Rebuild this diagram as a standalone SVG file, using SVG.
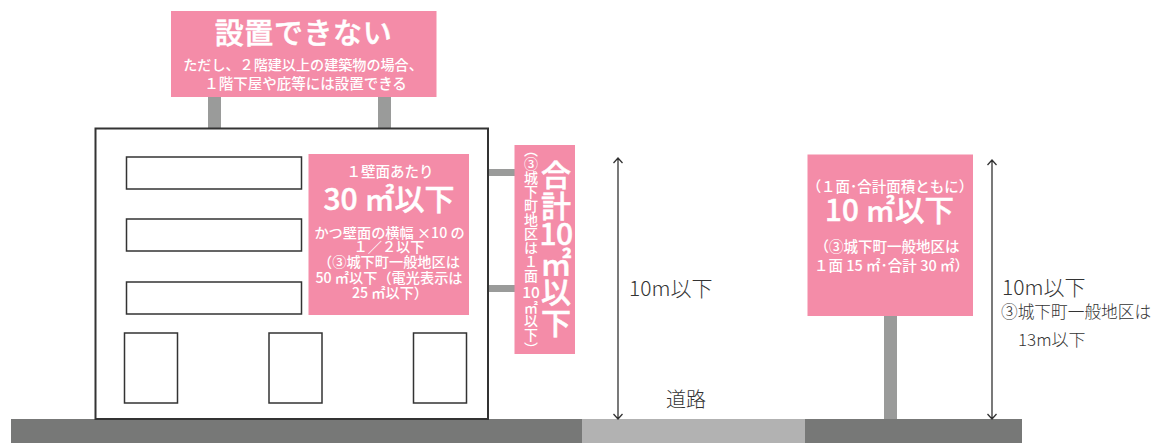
<svg xmlns="http://www.w3.org/2000/svg" width="1152" height="443" viewBox="0 0 1152 443">
<style>
text{font-family:"Noto Sans CJK JP","Noto Sans",sans-serif}
.w{fill:#fff;text-anchor:middle;font-weight:500}
.h{stroke:#fff;stroke-width:0.5}
.k{fill:#333;font-weight:300}
.sign{fill:#f48ca8}
.post{fill:#9a9b9a}
.box{fill:#fff;stroke:#333;stroke-width:1.5}
.v{writing-mode:vertical-rl;fill:#fff;font-weight:500}
.dim{fill:none;stroke:#333;stroke-width:1.3}
</style>
<g id="ground">
<rect x="11" y="419" width="571" height="24" fill="#777877"/>
<rect x="582" y="419" width="223" height="24" fill="#b2b2b2"/>
<rect x="805" y="419" width="217" height="24" fill="#777877"/>
</g>
<g id="connectors">
<rect class="post" x="208" y="97" width="13" height="32"/>
<rect class="post" x="378" y="97" width="13" height="32"/>
<rect class="post" x="488" y="169" width="27" height="7"/>
<rect class="post" x="488" y="285" width="27" height="7"/>
<rect class="post" x="884" y="316" width="13" height="103"/>
<path class="dim" d="M618 158V419M613.500 163L618 158L622.500 163M613.500 414L618 419L622.500 414"/>
<path class="dim" d="M992 160V419M987.500 165L992 160L996.500 165M987.500 414L992 419L996.500 414"/>
</g>
<g id="building">
<rect x="95.500" y="128.500" width="392.500" height="290.500" fill="#fff" stroke="#333" stroke-width="2"/>
<rect class="box" x="126.500" y="157" width="175" height="32"/>
<rect class="box" x="126.500" y="219" width="175" height="32"/>
<rect class="box" x="126.500" y="282" width="175" height="32"/>
<rect class="box" x="124.500" y="333" width="53" height="70"/>
<rect class="box" x="269" y="333" width="53" height="70"/>
<rect class="box" x="413.500" y="333" width="53" height="70"/>
</g>
<g id="roof-sign">
<rect class="sign" x="171" y="11" width="265.500" height="86"/>
<text class="w h" x="303.500" y="44" font-size="29" letter-spacing="0.600">設置できない</text>
<text class="w"><tspan x="303" y="70" font-size="14.100">ただし、２階建以上の建築物の場合、</tspan><tspan x="305.500" y="89" font-size="14.500">１階下屋や庇等には設置できる</tspan></text>
</g>
<g id="wall-sign">
<rect class="sign" x="308.500" y="154" width="160.500" height="161"/>
<text class="w" x="390" y="177" font-size="14.500">１壁面あたり</text>
<text class="w h" x="389" y="210" font-size="30">30 ㎡以下</text>
<text class="w" font-size="14.200"><tspan x="389.500" y="238">かつ壁面の横幅 ×10 の</tspan><tspan x="389" y="252">１／２以下</tspan><tspan x="389" y="267">（③城下町一般地区は</tspan><tspan x="389" y="283">50 ㎡以下（電光表示は</tspan><tspan x="390" y="298">25 ㎡以下）</tspan></text>
</g>
<g id="side-sign">
<rect class="sign" x="514.500" y="145" width="60.500" height="209"/>
<text class="v" x="531" y="143" font-size="14">（③城下町地区は１面</text>
<text class="w" x="531" y="298" font-size="15.500">10</text>
<text class="v" x="531" y="300" font-size="14">㎡以下）</text>
<text class="w h" font-size="30"><tspan x="556" y="186">合</tspan><tspan x="556" y="217">計</tspan><tspan x="556" y="245" letter-spacing="-0.500">10</tspan><tspan x="556" y="275" font-size="31">㎡</tspan><tspan x="556" y="303">以</tspan><tspan x="556" y="334">下</tspan></text>
</g>
<g id="pole-sign">
<rect class="sign" x="807.500" y="154.500" width="165.500" height="161.500"/>
<text class="w" font-size="14.500"><tspan x="890" y="192">（１面･合計面積ともに）</tspan><tspan x="887" y="252">（③城下町一般地区は</tspan><tspan x="891.500" y="271">１面 15 ㎡･合計 30 ㎡）</tspan></text>
<text class="w h" x="889.500" y="221" font-size="29.500">10 ㎡以下</text>
</g>
<g id="labels">
<text class="k" x="629" y="296" font-size="21">10m以下</text>
<text class="k" x="1002" y="295" font-size="21">10m以下</text>
<text class="k" x="1001" y="318" font-size="16.700">③城下町一般地区は</text>
<text class="k" x="1018" y="346" font-size="17">13m以下</text>
<text class="k" x="666" y="407" font-size="20">道路</text>
</g>
</svg>
